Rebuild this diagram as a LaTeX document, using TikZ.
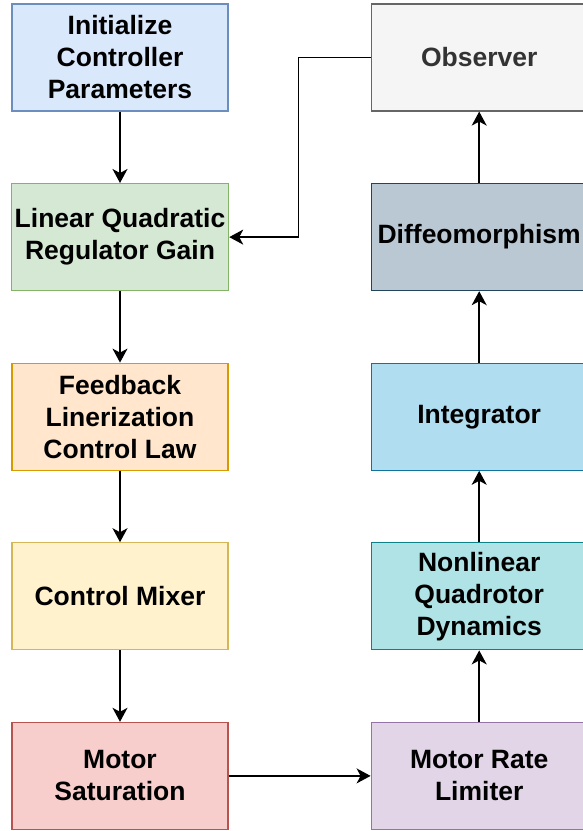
\documentclass[tikz,border=0pt]{standalone}
\usepackage{fontspec}
\setmainfont{Liberation Sans}
\usepackage{xcolor}
\usetikzlibrary{positioning, arrows.meta}

\begin{document}
\begin{tikzpicture}[node distance=71.4pt and 142pt, x=1pt, y=1pt]
		\definecolor{initfill}{HTML}{DAE8FC}
		\definecolor{initdraw}{HTML}{6C8EBF}
		\definecolor{lqrfill}{HTML}{D5E8D4}
		\definecolor{lqrdraw}{HTML}{82B366}
		\definecolor{fblfill}{HTML}{FFE6CC}
		\definecolor{fbldraw}{HTML}{D79B00}
		\definecolor{mixfill}{HTML}{FFF2CC}
		\definecolor{mixdraw}{HTML}{D6B656}
		\definecolor{satfill}{HTML}{F8CECC}
		\definecolor{satdraw}{HTML}{B85450}
		\definecolor{ratefill}{HTML}{E1D5E7}
		\definecolor{ratedraw}{HTML}{9673A6}
		\definecolor{dynfill}{HTML}{B0E3E6}
		\definecolor{dyndraw}{HTML}{0E8088}
		\definecolor{intfill}{HTML}{B1DDF0}
		\definecolor{intdraw}{HTML}{10739E}
		\definecolor{diffill}{HTML}{BAC8D3}
		\definecolor{difdraw}{HTML}{23445D}
		\definecolor{obsfill}{HTML}{F5F5F5}
		\definecolor{obsdraw}{HTML}{666666}
		\definecolor{obstext}{HTML}{333333}
		\tikzstyle{block} = [rectangle, minimum width=216pt, minimum height=107pt, align=center, line width=1.2pt, font=\bfseries\fontsize{26.5}{32}\selectfont]
		\tikzstyle{arrow} = [-{Stealth[length=14pt, width=15pt, inset=4pt]}, line width=1.5pt]

		\useasboundingbox (0,0) rectangle (583,-831);

		\node (init) [block, draw=initdraw, fill=initfill] at (120,-57.5) {Initialize\\Controller\\Parameters};
		\node (lqr) [block, below=of init, draw=lqrdraw, fill=lqrfill] {Linear Quadratic\\Regulator Gain};
		\node (fbl) [block, below=of lqr, draw=fbldraw, fill=fblfill] {Feedback\\Linerization\\Control Law};
		\node (mixer) [block, below=of fbl, draw=mixdraw, fill=mixfill] {Control Mixer};
		\node (saturation) [block, below=of mixer, draw=satdraw, fill=satfill] {Motor\\Saturation};

		\node (ratelimiter) [block, right=of saturation, draw=ratedraw, fill=ratefill] {Motor Rate\\Limiter};
		\node (dynamics) [block, above=of ratelimiter, draw=dyndraw, fill=dynfill] {Nonlinear\\Quadrotor\\Dynamics};
		\node (integrator) [block, above=of dynamics, draw=intdraw, fill=intfill] {Integrator};
		\node (diffeo) [block, above=of integrator, draw=difdraw, fill=diffill] {Diffeomorphism};
		\node (observer) [block, above=of diffeo, draw=obsdraw, fill=obsfill, text=obstext] {Observer};

		\draw [arrow] (init) -- (lqr);
		\draw [arrow] (lqr) -- (fbl);
		\draw [arrow] (fbl) -- (mixer);
		\draw [arrow] (mixer) -- (saturation);
		\draw [arrow] (saturation) -- (ratelimiter);
		\draw [arrow] (ratelimiter) -- (dynamics);
		\draw [arrow] (dynamics) -- (integrator);
		\draw [arrow] (integrator) -- (diffeo);
		\draw [arrow] (diffeo) -- (observer);
		\draw [arrow] (observer.west) -- ++(-72pt,0) |- (lqr.east);
	\end{tikzpicture}
\end{document}
